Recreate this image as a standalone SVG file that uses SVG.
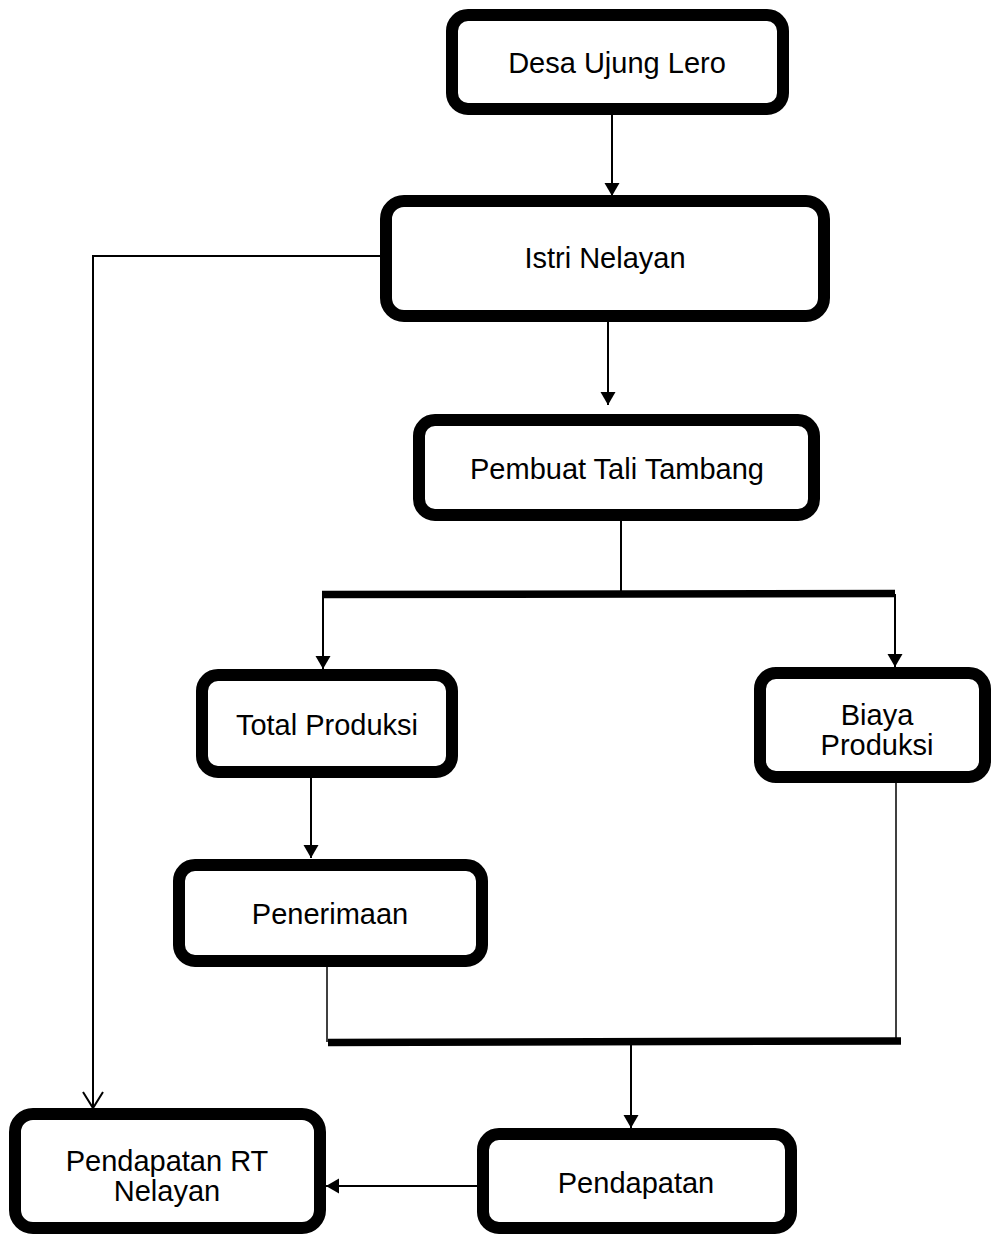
<svg xmlns="http://www.w3.org/2000/svg" width="991" height="1234" viewBox="0 0 991 1234">
  <style>
    .box { fill: #ffffff; stroke: #000000; stroke-width: 12; }
    .lbl { font-family: "Liberation Sans", Arial, sans-serif; font-size: 29px; fill: #000000; text-anchor: middle; }
    .ln { fill: none; stroke: #000000; stroke-width: 2; }
    .thin { fill: none; stroke: #000000; stroke-width: 1.5; }
    .bar { fill: none; stroke: #000000; stroke-width: 7.5; }
  </style>
  <defs>
    <marker id="ah" markerUnits="userSpaceOnUse" markerWidth="15" markerHeight="16" refX="13" refY="7.5" orient="auto">
      <path d="M0,0 L13,7.5 L0,15 z" fill="#000000"/>
    </marker>
    <marker id="av" markerUnits="userSpaceOnUse" markerWidth="20" markerHeight="24" refX="17" refY="11" orient="auto">
      <path d="M1,1 L17,11 L1,21" fill="none" stroke="#000000" stroke-width="2"/>
    </marker>
  </defs>
  <rect width="991" height="1234" fill="#ffffff"/>

  <g id="connectors">
    <line class="ln" x1="612" y1="115" x2="612" y2="196" marker-end="url(#ah)"/>
    <line class="ln" x1="608" y1="322" x2="608" y2="405" marker-end="url(#ah)"/>
    <line class="ln" x1="621" y1="521" x2="621" y2="594" stroke-width="2.5"/>
    <line class="bar" x1="322" y1="594.5" x2="895" y2="593.5"/>
    <polyline class="ln" points="323,594 323,669" marker-end="url(#ah)"/>
    <polyline class="ln" points="895,594 895,667" marker-end="url(#ah)"/>
    <line class="ln" x1="311" y1="778" x2="311" y2="858" marker-end="url(#ah)"/>
    <line class="thin" x1="327" y1="967" x2="327" y2="1042"/>
    <line class="thin" x1="896" y1="783" x2="896" y2="1041"/>
    <line class="bar" x1="328" y1="1042.5" x2="901" y2="1041"/>
    <line class="ln" x1="631" y1="1042" x2="631" y2="1128" marker-end="url(#ah)"/>
    <line class="ln" x1="477" y1="1186" x2="326" y2="1186" marker-end="url(#ah)"/>
    <polyline class="ln" points="380,256 93,256 93,1108" marker-end="url(#av)"/>
  </g>

  <g id="desa">
    <rect class="box" x="452" y="15" width="331" height="94" rx="16"/>
    <text class="lbl" x="617" y="73">Desa Ujung Lero</text>
  </g>
  <g id="istri">
    <rect class="box" x="386" y="201" width="438" height="115" rx="18"/>
    <text class="lbl" x="605" y="268">Istri Nelayan</text>
  </g>
  <g id="pembuat">
    <rect class="box" x="419" y="420" width="395" height="95" rx="16"/>
    <text class="lbl" x="617" y="479">Pembuat Tali Tambang</text>
  </g>
  <g id="total">
    <rect class="box" x="202" y="675" width="250" height="97" rx="16"/>
    <text class="lbl" x="327" y="735">Total Produksi</text>
  </g>
  <g id="biaya">
    <rect class="box" x="760" y="673" width="225" height="104" rx="16"/>
    <text class="lbl" x="877" y="725">Biaya</text>
    <text class="lbl" x="877" y="755">Produksi</text>
  </g>
  <g id="penerimaan">
    <rect class="box" x="179" y="865" width="303" height="96" rx="16"/>
    <text class="lbl" x="330" y="924">Penerimaan</text>
  </g>
  <g id="pendapatan-rt">
    <rect class="box" x="15" y="1114" width="305" height="114" rx="18"/>
    <text class="lbl" x="167" y="1171">Pendapatan RT</text>
    <text class="lbl" x="167" y="1201">Nelayan</text>
  </g>
  <g id="pendapatan">
    <rect class="box" x="483" y="1134" width="308" height="94" rx="16"/>
    <text class="lbl" x="636" y="1193">Pendapatan</text>
  </g>
</svg>
